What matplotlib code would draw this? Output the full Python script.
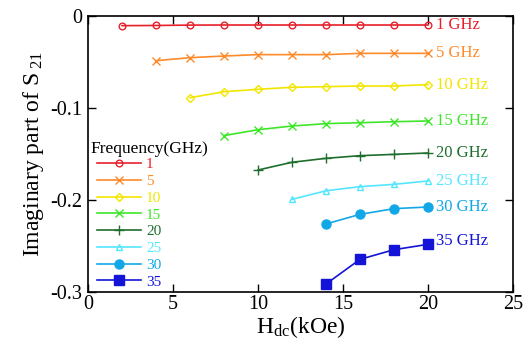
import matplotlib
matplotlib.use("Agg")
import matplotlib.pyplot as plt

plt.rcParams['font.family'] = ['Liberation Serif', 'DejaVu Serif']
plt.rcParams['mathtext.fontset'] = 'custom'
plt.rcParams['mathtext.rm'] = 'Liberation Serif'
plt.rcParams['mathtext.it'] = 'Liberation Serif:italic'

freqs = ["1", "5", "10", "15", "20", "25", "30", "35"]
x_1 = [2, 4, 6, 8, 10, 12, 14, 16, 18, 20]
y_1 = [-0.0105, -0.0103, -0.0099, -0.0098, -0.0098, -0.0098, -0.0098, -0.0098, -0.0098, -0.0098]
x_5 = [4, 6, 8, 10, 12, 14, 16, 18, 20]
y_5 = [-0.0486, -0.0453, -0.0435, -0.0420, -0.0420, -0.0420, -0.0406, -0.0406, -0.0406]
x_10 = [6, 8, 10, 12, 14, 16, 18, 20]
y_10 = [-0.0888, -0.0823, -0.0797, -0.0775, -0.0768, -0.0761, -0.0761, -0.0746]
x_15 = [8, 10, 12, 14, 16, 18, 20]
y_15 = [-0.130, -0.1236, -0.1196, -0.1170, -0.1160, -0.1149, -0.1141]
x_20 = [10, 12, 14, 16, 18, 20]
y_20 = [-0.1674, -0.1590, -0.1547, -0.1518, -0.1504, -0.1489]
x_25 = [12, 14, 16, 18, 20]
y_25 = [-0.1993, -0.1900, -0.1855, -0.1830, -0.1793]
x_30 = [14, 16, 18, 20]
y_30 = [-0.2260, -0.2156, -0.2094, -0.2076]
x_35 = [14, 16, 18, 20]
y_35 = [-0.2913, -0.2645, -0.2540, -0.2482]

xs = [x_1, x_5, x_10, x_15, x_20, x_25, x_30, x_35]
ys = [y_1, y_5, y_10, y_15, y_20, y_25, y_30, y_35]

colors = ['#e8202a', '#ff8a2a', '#f2e600', '#3ee62a', '#1e6e2e', '#55e6ff', '#12a8e8', '#1414d8']
markers = ['o', 'x', 'D', 'x', '+', '^', 'o', 's']
msizes = [4.8, 6, 4.2, 6, 6.5, 5, 6.5, 7.5]
filled = [False, False, False, False, False, False, True, True]
label_offsets = [0.0, 0.0, 0.0, 0.0, 0.0, 0.0, 0.0, 0.004]

fig = plt.figure(figsize=(5.28, 3.47), dpi=100)
ax = fig.add_axes([0.1667, 0.1585, 0.8049, 0.7954])

for f, x, y, c, m, ms, fl, off in zip(freqs, xs, ys, colors, markers, msizes, filled, label_offsets):
    ax.plot(x, y, color=c, marker=m, markersize=ms, lw=1.2,
            markerfacecolor=(c if fl else 'none'), markeredgecolor=c,
            markeredgewidth=1.0, label=f, clip_on=False)
    ax.text(x[-1] + 0.45, y[-1] + off, f"{f} GHz", color=c, fontsize=12,
            ha='left', va='center')

ax.set_xlim(0, 25)
ax.set_ylim(-0.3, 0)
ax.set_xticks([0, 5, 10, 15, 20, 25])
ax.set_yticks([0, -0.1, -0.2, -0.3])
ax.set_yticklabels(['0', '-0.1', '-0.2', '-0.3'])
ax.tick_params(direction='in', top=True, right=True, length=6, width=1,
               labelsize=14.5)
ax.tick_params(axis='x', pad=2)
ax.tick_params(axis='y', pad=4)
for s in ax.spines.values():
    s.set_linewidth(1.2)

ax.set_xlabel(r'H$_{\mathrm{dc}}$(kOe)', fontsize=17, labelpad=0)
ax.set_ylabel(r'Imaginary part of S$_{\mathrm{\ 21}}$', fontsize=17, labelpad=3)

ax.text(0.005, 0.518, 'Frequency(GHz)', transform=ax.transAxes, fontsize=12.5,
        ha='left', va='center')
leg = ax.legend(loc='upper left', bbox_to_anchor=(0.018, 0.492),
                frameon=False, fontsize=11, labelcolor='linecolor',
                handlelength=2.85, handletextpad=0.35, labelspacing=0.2,
                borderpad=0.1, borderaxespad=0.0)

fig.savefig('out.png', dpi=100)
